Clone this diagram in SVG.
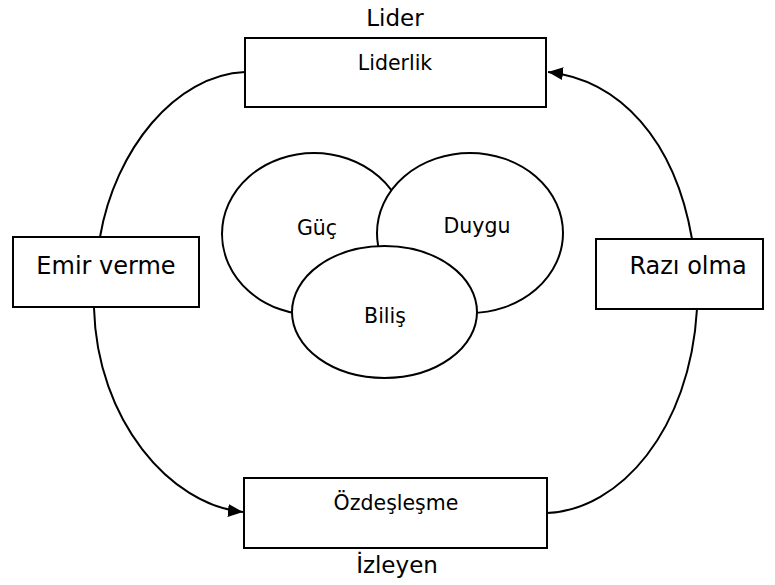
<svg xmlns="http://www.w3.org/2000/svg" width="775" height="585" viewBox="0 0 775 585">
  <style>
    text { font-family: "DejaVu Sans", Verdana, sans-serif; fill: #000; text-anchor: middle; }
    .box { fill: #fff; stroke: #000; stroke-width: 2; }
    .oval { fill: #fff; stroke: #000; stroke-width: 2; }
    .link { fill: none; stroke: #000; stroke-width: 2; }
    .big { font-size: 24px; }
    .mid { font-size: 23px; }
    .small { font-size: 20.5px; }
  </style>
  <defs>
    <marker id="arrow" viewBox="0 0 15 13" refX="15" refY="6.5" markerWidth="15" markerHeight="13" markerUnits="userSpaceOnUse" orient="auto">
      <path d="M0,0 L15,6.5 L0,13 z" fill="#000"/>
    </marker>
  </defs>

  <rect width="775" height="585" fill="#fff"/>

  <!-- connectors -->
  <g id="connectors">
    <path class="link" d="M245,72 C175,75 115,150 100,237"/>
    <path class="link" d="M94,308 C97,420 170,505 243,512" marker-end="url(#arrow)"/>
    <path class="link" d="M547,513 C620,510 690,430 697,309"/>
    <path class="link" d="M692,239 C675,140 620,80 548,72" marker-end="url(#arrow)"/>
  </g>

  <!-- top: leader -->
  <g id="lider">
    <text class="mid" x="395" y="26">Lider</text>
    <rect class="box" x="245" y="38" width="301" height="69"/>
    <text class="small" x="395" y="70">Liderlik</text>
  </g>

  <g id="emir-verme">
    <rect class="box" x="13" y="237" width="186" height="70"/>
    <text class="big" x="106" y="274">Emir verme</text>
  </g>

  <g id="razi-olma">
    <rect class="box" x="596" y="239" width="167" height="70"/>
    <text class="big" x="688" y="274">Razı olma</text>
  </g>

  <!-- bottom: follower -->
  <g id="izleyen">
    <rect class="box" x="244" y="478" width="303" height="70"/>
    <text class="small" x="396" y="510">Özdeşleşme</text>
    <text class="mid" x="397" y="573">İzleyen</text>
  </g>

  <!-- three overlapping ovals -->
  <g id="guc">
    <ellipse class="oval" cx="314" cy="234" rx="92" ry="81"/>
    <text class="small" x="317" y="235">Güç</text>
  </g>
  <g id="duygu">
    <ellipse class="oval" cx="470" cy="233" rx="93" ry="80"/>
    <text class="small" x="477" y="233">Duygu</text>
  </g>
  <g id="bilis">
    <ellipse class="oval" cx="384.5" cy="312" rx="92.5" ry="66"/>
    <text class="small" x="385" y="323">Biliş</text>
  </g>
</svg>
